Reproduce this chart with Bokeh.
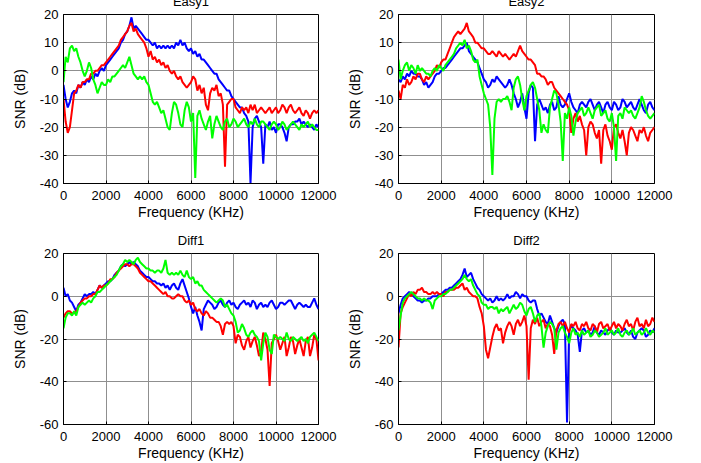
from bokeh.plotting import figure
from bokeh.layouts import column, row
from bokeh.models import Range1d, FixedTicker
from bokeh.embed import file_html
from bokeh.resources import INLINE

FREQ = list(range(0, 12001, 100))
X_TICKS = [0, 2000, 4000, 6000, 8000, 10000, 12000]
X_TICK_LABELS = ["0", "2000", "4000", "6000", "8000", "10000", "12000"]
Y_TICKS_EASY = [-40, -30, -20, -10, 0, 10, 20]
Y_TICKS_DIFF = [-60, -40, -20, 0, 20]
TITLES = ["Easy1", "Easy2", "Diff1", "Diff2"]

E1_blue = [-5, -10, -13, -11, -8, -7, -8, -5, -6, -4,
           -5, -3, -4, -2, -3, -1, -2, 0, 1, 0,
           2, 3, 4, 5, 6, 7, 8, 10, 11, 13,
           14, 16, 19, 15, 16, 15, 14, 13, 12, 11,
           11, 10, 9, 10, 8, 9, 8, 9, 8, 9,
           8, 9, 8, 10, 9, 11, 9, 10, 8, 7,
           8, 6, 7, 5, 6, 4, 4, 3, 2, 1,
           0, -1, -1, -3, -4, -5, -6, -7, -7, -9,
           -10, -11, -12, -13, -13, -15, -16, -18, -40, -20,
           -17, -16, -18, -20, -33, -19, -20, -18, -21, -20,
           -22, -19, -19, -20, -22, -25, -20, -19, -19, -18,
           -18, -17, -19, -18, -19, -20, -19, -20, -21, -19,
           -20]
E1_red = [-10, -18, -22, -20, -14, -8, -7, -5, -6, -4,
          -4, -3, -3, -1, -1, 0, 0, 1, 2, 2,
          3, 4, 5, 6, 7, 8, 9, 11, 12, 13,
          14, 16, 17, 14, 15, 13, 12, 11, 10, 8,
          5, 7, 4, 5, 3, 4, 2, 3, 1, 2,
          0, -1, 0, -2, -3, -2, -4, -5, -6, -5,
          -4, -2, -3, -7, -5, -8, -6, -12, -14, -8,
          -6, -7, -5, -9, -8, -12, -34, -12, -11, -10,
          -10, -13, -14, -15, -13, -14, -13, -15, -12, -14,
          -12, -15, -14, -13, -14, -15, -14, -13, -15, -14,
          -13, -15, -14, -12, -13, -15, -13, -12, -14, -15,
          -14, -13, -15, -16, -14, -15, -17, -15, -14, -15,
          -14]
E1_green = [-4, 5, 3, 8, 9, 7, 8, 5, 3, 0,
            -2, 0, 3, 1, -3, -5, -8, -6, -4, -5,
            -5, -3, -4, -2, -2, -1, 0, 1, 2, 1,
            3, 5, 2, -1, -2, -3, -2, -3, -2, -4,
            -5, -8, -11, -12, -11, -13, -15, -14, -17, -20,
            -21, -15, -11, -12, -15, -19, -20, -14, -11, -13,
            -18, -15, -38, -16, -14, -17, -19, -21, -18, -16,
            -24, -19, -16, -18, -20, -21, -18, -17, -20, -19,
            -17, -18, -20, -19, -18, -17, -19, -20, -18, -19,
            -17, -19, -20, -18, -18, -19, -20, -21, -19, -18,
            -19, -21, -20, -18, -19, -21, -20, -19, -18, -19,
            -20, -21, -19, -20, -19, -18, -20, -19, -20, -21,
            -21]

E2_blue = [-3, -4, -2, -3, -1, -2, 0, -1, -1, -2,
           -2, -3, -5, -4, -6, -5, -4, -2, -1, -1,
           0, 1, 1, 2, 3, 4, 5, 6, 7, 8,
           8, 9, 10, 7, 6, 5, 4, 3, 1, -1,
           -3, -4, -6, -5, -3, -4, -2, -3, -4, -5,
           -6, -5, -3, -5, -8, -10, -13, -11, -8, -13,
           -17, -8, -5, -6, -25, -12, -10, -12, -14, -13,
           -15, -12, -11, -14, -13, -9, -12, -13, -12, -10,
           -8, -11, -13, -14, -15, -12, -11, -12, -13, -11,
           -10, -12, -14, -12, -11, -13, -15, -12, -11, -13,
           -14, -11, -12, -14, -13, -10, -11, -13, -12, -11,
           -13, -14, -12, -10, -12, -14, -15, -12, -11, -13,
           -14]
E2_red = [-7, -10, -5, -6, -3, -5, -4, -2, -3, -1,
          -1, -3, -4, -2, -3, -2, -1, 0, 2, 1,
          3, 4, 4, 6, 8, 10, 12, 13, 14, 13,
          14, 15, 17, 14, 13, 12, 10, 10, 9, 8,
          8, 7, 6, 6, 7, 6, 5, 7, 6, 5,
          6, 5, 4, 5, 6, 5, 7, 9, 7, 6,
          5, 4, 4, 3, 2, -1, -1, -2, -2, -3,
          -5, -4, -4, -6, -7, -8, -9, -10, -11, -12,
          -14, -22, -17, -15, -18, -16, -19, -21, -30, -20,
          -18, -19, -22, -24, -21, -33, -21, -19, -23, -25,
          -28, -20, -19, -22, -24, -21, -25, -30, -22, -20,
          -21, -23, -25, -21, -22, -20, -23, -25, -22, -21,
          -20]
E2_green = [4, -3, 0, 2, 3, 0, 2, 1, -1, 2,
            0, 1, 0, -1, -1, -2, 0, 1, 0, 2,
            1, 0, 2, 3, 4, 5, 6, 8, 9, 10,
            9, 11, 8, 9, 7, 4, 3, 4, -2, -5,
            -8, -10, -12, -20, -37, -17, -11, -10, -11, -10,
            -10, -9, -11, -14, -6, -3, -2, -5, -10, -14,
            -9, -7, -5, -4, -6, -10, -14, -22, -19, -21,
            -22, -13, -10, -7, -8, -12, -18, -32, -15, -17,
            -13, -16, -23, -18, -15, -14, -13, -16, -15, -13,
            -15, -17, -14, -13, -12, -16, -15, -14, -17, -18,
            -15, -20, -32, -16, -15, -17, -13, -14, -15, -14,
            -16, -17, -15, -13, -9, -11, -14, -16, -17, -16,
            -15]

D1_blue = [4, 0, 1, -2, -3, -5, -7, -4, -3, -1,
           1, 0, 1, 1, 2, 1, 3, 5, 4, 5,
           6, 7, 7, 8, 10, 11, 12, 14, 15, 14,
           15, 16, 15, 16, 15, 14, 12, 11, 10, 9,
           9, 8, 7, 7, 6, 6, 5, 6, 4, 5,
           3, 5, 6, 4, 3, 6, 8, 5, 2, -1,
           -5, -8, -5, -9, -12, -16, -6, -4, -2, -3,
           -4, -6, -5, -3, -2, -4, -5, -3, -2, -4,
           -3, -5, -6, -4, -3, -2, -4, -3, -5, -2,
           -3, -6, -4, -3, -5, -4, -5, -3, -2, -4,
           -6, -5, -3, -3, -4, -3, -2, -2, -4, -6,
           -4, -3, -4, -5, -4, -5, -5, -3, -1, -4,
           -6]
D1_red = [-10, -8, -7, -7, -8, -8, -7, -5, -3, -2,
          -1, -1, 0, 0, 1, 1, 3, 5, 4, 5,
          5, 6, 8, 8, 9, 11, 12, 13, 14, 15,
          15, 14, 15, 15, 14, 13, 11, 10, 9, 8,
          7, 7, 6, 5, 4, 3, 2, 1, 2, 0,
          0, -1, -1, 0, 1, 0, 0, -2, -3, -2,
          -4, -3, -6, -7, -6, -8, -9, -7, -8, -10,
          -10, -11, -12, -12, -14, -18, -13, -12, -13, -12,
          -14, -22, -18, -19, -23, -25, -21, -19, -24, -21,
          -19, -23, -28, -26, -17, -20, -25, -42, -22, -20,
          -18, -21, -25, -22, -19, -28, -24, -19, -21, -27,
          -23, -20, -24, -28, -21, -19, -28, -24, -18, -20,
          -30]
D1_green = [-15, -10, -8, -8, -9, -7, -9, -5, -4, -3,
            -4, -3, -2, -3, -1, 0, 2, 2, 3, 4,
            5, 6, 7, 8, 9, 10, 12, 14, 15, 17,
            16, 17, 16, 15, 17, 18, 16, 15, 14, 13,
            13, 12, 12, 11, 12, 12, 11, 13, 17, 11,
            10, 11, 10, 11, 10, 12, 10, 9, 12, 9,
            8, 9, 6, 7, 5, 5, 3, 2, 1, 0,
            -1, -2, -3, -2, -1, -2, -5, -4, -6, -8,
            -9, -12, -17, -16, -13, -15, -18, -19, -17, -16,
            -18, -19, -21, -30, -22, -17, -19, -25, -27, -18,
            -19, -20, -19, -20, -21, -17, -20, -21, -19, -20,
            -21, -20, -19, -21, -20, -22, -19, -18, -17, -19,
            -21]

D2_blue = [-8, -4, -1, 0, 1, 2, 1, 0, -1, -2,
           -2, -3, -2, -2, -1, -1, 0, 0, 0, 1,
           1, 2, 3, 3, 4, 4, 5, 6, 7, 8,
           10, 13, 9, 10, 11, 8, 6, 4, 3, 1,
           0, -1, -2, -1, -3, -2, 0, -2, -1, -2,
           -1, 1, -1, 0, 0, 2, 1, -1, 1, 0,
           0, -2, -3, -2, -2, -6, -9, -8, -10, -12,
           -13, -9, -12, -15, -17, -14, -12, -11, -13, -59,
           -16, -14, -15, -16, -18, -26, -16, -15, -17, -16,
           -18, -17, -14, -17, -18, -16, -17, -18, -16, -15,
           -17, -18, -16, -17, -17, -16, -15, -17, -18, -16,
           -19, -20, -17, -16, -15, -16, -19, -18, -16, -17,
           -15]
D2_red = [-24, -8, -5, -3, -1, 1, 0, 2, 1, 3,
          3, 4, 2, 2, 1, 1, 2, 1, 2, 1,
          1, 0, 2, 2, 3, 3, 3, 4, 4, 5,
          6, 3, 4, 2, 1, 0, 0, -1, -5, -8,
          -14, -25, -29, -24, -19, -15, -13, -16, -15, -22,
          -17, -14, -12, -14, -18, -13, -11, -14, -12, -9,
          -14, -39, -15, -11, -13, -10, -14, -12, -11, -15,
          -13, -14, -18, -27, -16, -13, -12, -14, -12, -15,
          -17, -13, -14, -12, -15, -16, -13, -14, -12, -15,
          -16, -13, -14, -17, -13, -12, -15, -14, -13, -16,
          -14, -12, -15, -13, -14, -16, -13, -11, -14, -13,
          -16, -12, -10, -14, -13, -15, -11, -14, -13, -10,
          -12]
D2_green = [-16, -9, -3, -1, 0, 1, 2, 1, 0, -1,
            -1, -2, -1, -2, -2, -3, -6, -2, -1, 0,
            0, 1, 1, 2, 3, 3, 4, 5, 6, 7,
            8, 10, 8, 7, 8, 5, 3, 1, 0, -3,
            -4, -4, -6, -5, -5, -6, -5, -8, -6, -7,
            -6, -5, -8, -6, -4, -6, -5, -3, -4, -7,
            -9, -6, -5, -8, -12, -9, -8, -14, -24, -17,
            -14, -12, -13, -15, -25, -17, -15, -14, -17, -19,
            -22, -17, -15, -18, -17, -19, -16, -18, -17, -16,
            -19, -18, -16, -17, -19, -18, -17, -15, -18, -17,
            -16, -18, -17, -15, -18, -19, -17, -16, -18, -17,
            -15, -18, -17, -16, -18, -17, -15, -17, -18, -16,
            -17]

FONT = "Liberation Sans"


def panel(title, blue, red, green, yrange, yticks, fw, fh, bt, bb, bl, br):
    p = figure(frame_width=fw, frame_height=fh,
               x_range=Range1d(0, 12000), y_range=Range1d(*yrange),
               output_backend="svg", toolbar_location=None, title=title,
               min_border_left=bl, min_border_right=br,
               min_border_top=bt, min_border_bottom=bb)
    for ys, col in ((blue, "#0000ff"), (red, "#ff0000"), (green, "#00ff00")):
        p.line(FREQ[:len(ys)], ys, line_color=col, line_width=2)
    p.title.align = "center"
    p.title.text_font = FONT
    p.title.text_font_size = "13px"
    p.title.text_font_style = "normal"
    p.title.text_color = "black"
    p.title.standoff = 11
    p.xaxis.ticker = FixedTicker(ticks=X_TICKS)
    p.xaxis.major_label_overrides = dict(zip(X_TICKS, X_TICK_LABELS))
    p.yaxis.ticker = FixedTicker(ticks=yticks)
    p.yaxis.major_label_overrides = {t: str(t) for t in yticks}
    p.xaxis.axis_label = "Frequency (KHz)"
    p.yaxis.axis_label = "SNR (dB)"
    for ax in (p.xaxis, p.yaxis):
        ax.axis_label_text_font = FONT
        ax.axis_label_text_font_size = "14px"
        ax.axis_label_text_font_style = "normal"
        ax.axis_label_text_color = "black"
        ax.major_label_text_font = FONT
        ax.major_label_text_font_size = "13px"
        ax.major_label_text_color = "black"
        ax.major_tick_in = 3
        ax.major_tick_out = 0
        ax.minor_tick_line_color = None
        ax.axis_line_color = "black"
        ax.major_tick_line_color = "black"
    p.xaxis.major_label_standoff = 7
    p.xaxis.axis_label_standoff = 1
    p.yaxis.major_label_standoff = 5
    p.yaxis.axis_label_standoff = 9
    p.grid.grid_line_color = "#8f8f8f"
    p.grid.grid_line_width = 1
    p.outline_line_color = "black"
    p.outline_line_alpha = 1
    p.outline_line_width = 1
    p.background_fill_color = "white"
    p.border_fill_color = "white"
    return p


p1 = panel(TITLES[0], E1_blue, E1_red, E1_green, (-40, 20), Y_TICKS_EASY, 255, 169, 30, 40, 53, 20)
p2 = panel(TITLES[1], E2_blue, E2_red, E2_green, (-40, 20), Y_TICKS_EASY, 256, 169, 30, 40, 60, 30)
p3 = panel(TITLES[2], D1_blue, D1_red, D1_green, (-60, 20), Y_TICKS_DIFF, 255, 171, 30, 38, 53, 20)
p4 = panel(TITLES[3], D2_blue, D2_red, D2_green, (-60, 20), Y_TICKS_DIFF, 256, 171, 30, 38, 60, 30)

layout = column(row(p1, p2), row(p3, p4),
                styles={"margin-top": "-16px", "margin-left": "8px",
                        "margin-bottom": "-20px"})

open("out.html", "w").write(file_html(layout, INLINE))
